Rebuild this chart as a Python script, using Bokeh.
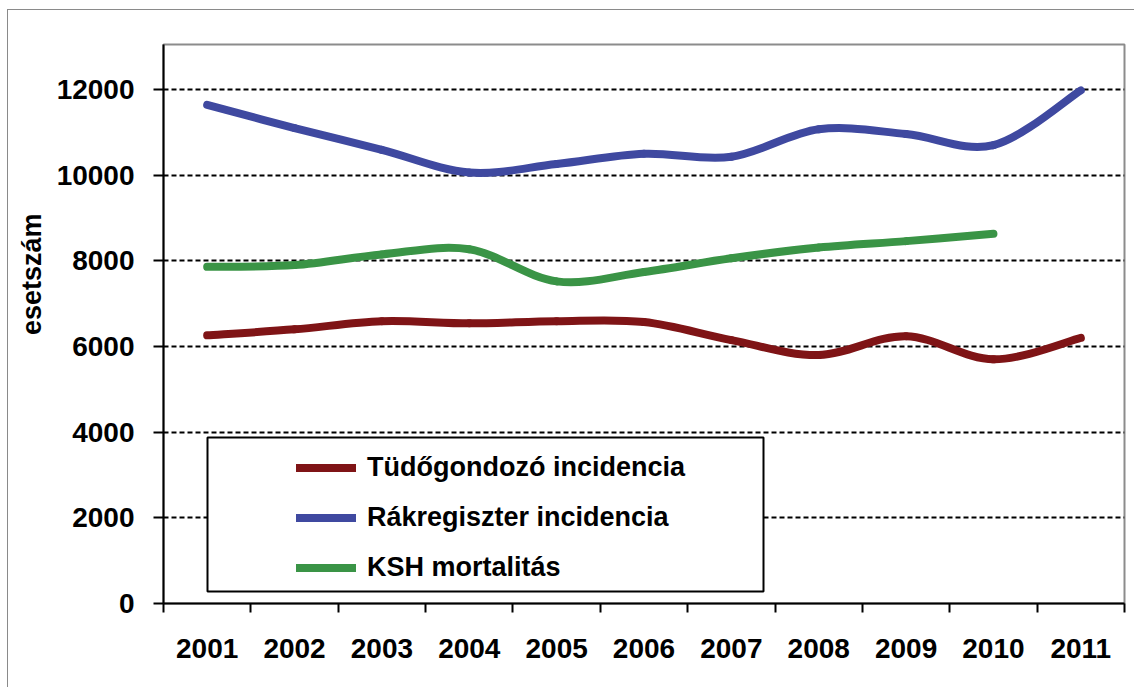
import math
from bokeh.plotting import figure
from bokeh.models import (FixedTicker, Legend, LegendItem, BoxAnnotation, Title,
                          Range1d, ColumnDataSource)
from bokeh.embed import file_html
from bokeh.resources import INLINE

# ---- data ----
years = ["2001", "2002", "2003", "2004", "2005", "2006",
         "2007", "2008", "2009", "2010", "2011"]
tudogondozo = [6260, 6400, 6590, 6540, 6590, 6570, 6150, 5800, 6240, 5700, 6200]
rakregiszter = [11640, 11100, 10590, 10060, 10260, 10500, 10430, 11070, 10960, 10700, 11980]
ksh_mortalitas = [7860, 7900, 8150, 8270, 7520, 7740, 8060, 8310, 8460, 8630]
y_tick_values = [0, 2000, 4000, 6000, 8000, 10000, 12000]

series_names = ["Tüdőgondozó incidencia", "Rákregiszter incidencia", "KSH mortalitás"]
series_values = [tudogondozo, rakregiszter, ksh_mortalitas]
series_colors = ["#7f1416", "#3f49a0", "#3a9446"]

FONT = "Liberation Sans"


def smooth_segments(xs, ys):
    """Cubic Bezier segments (Catmull-Rom style, like spreadsheet 'smoothed line')."""
    n = len(xs)
    d = dict(x0=[], y0=[], x1=[], y1=[], cx0=[], cy0=[], cx1=[], cy1=[])
    for i in range(n - 1):
        a = max(i - 1, 0)
        b = min(i + 2, n - 1)
        d["x0"].append(xs[i]); d["y0"].append(ys[i])
        d["x1"].append(xs[i + 1]); d["y1"].append(ys[i + 1])
        d["cx0"].append(xs[i] + (xs[i + 1] - xs[a]) / 6.0)
        d["cy0"].append(ys[i] + (ys[i + 1] - ys[a]) / 6.0)
        d["cx1"].append(xs[i + 1] - (xs[b] - xs[i]) / 6.0)
        d["cy1"].append(ys[i + 1] - (ys[b] - ys[i]) / 6.0)
    return d


p = figure(width=1127, height=678,
           x_range=Range1d(0, len(years)), y_range=Range1d(0, 13050),
           output_backend="svg", toolbar_location=None,
           min_border_left=155, min_border_top=34,
           min_border_right=11, min_border_bottom=85,
           background_fill_color="white", border_fill_color="white")
p.styles = {"margin-left": "7px", "margin-top": "9px",
            "border-left": "1px solid #8a8a8a", "border-top": "1px solid #8a8a8a"}

p.outline_line_color = "#8c8c8c"
p.outline_line_width = 2

# ---- axes ----
centers = [i + 0.5 for i in range(len(years))]
xa = p.xaxis[0]
xa.ticker = FixedTicker(ticks=centers, minor_ticks=list(range(len(years) + 1)))
xa.major_label_overrides = {c: y for c, y in zip(centers, years)}
xa.major_tick_line_color = None
xa.major_tick_out = 9
xa.major_tick_in = 0
xa.minor_tick_line_color = "black"
xa.minor_tick_line_width = 2
xa.minor_tick_out = 9
xa.minor_tick_in = 0
xa.axis_line_color = "black"
xa.axis_line_width = 2
xa.major_label_standoff = 26
xa.major_label_text_font = FONT
xa.major_label_text_font_style = "bold"
xa.major_label_text_font_size = "28px"
xa.major_label_text_color = "black"

ya = p.yaxis[0]
ya.ticker = FixedTicker(ticks=y_tick_values, minor_ticks=[])
ya.major_tick_line_color = "black"
ya.major_tick_line_width = 2
ya.major_tick_out = 10
ya.major_tick_in = 0
ya.minor_tick_line_color = None
ya.axis_line_color = "black"
ya.axis_line_width = 2
ya.major_label_standoff = 19
ya.major_label_text_font = FONT
ya.major_label_text_font_style = "bold"
ya.major_label_text_font_size = "28px"
ya.major_label_text_color = "black"

p.xgrid.grid_line_color = None
p.ygrid.ticker = FixedTicker(ticks=y_tick_values)
p.ygrid.grid_line_color = "black"
p.ygrid.grid_line_width = 1.8
p.ygrid.grid_line_dash = "5 3"

# ---- y axis title ----
p.add_layout(Title(text="esetszám", align="right", offset=169,
                   vertical_align="top",
                   text_font=FONT, text_font_style="bold",
                   text_font_size="27px", text_color="black"), "left")

# ---- series ----
renderers = []
for vals, col in zip(series_values, series_colors):
    xs = centers[:len(vals)]
    src = ColumnDataSource(smooth_segments(xs, vals))
    r = p.bezier(x0="x0", y0="y0", x1="x1", y1="y1",
                 cx0="cx0", cy0="cy0", cx1="cx1", cy1="cy1",
                 source=src, line_color=col, line_width=8, line_cap="round")
    renderers.append(r)

# ---- legend ----
p.add_layout(BoxAnnotation(left=44, right=600, bottom=12, top=166,
                           left_units="screen", right_units="screen",
                           bottom_units="screen", top_units="screen",
                           fill_color="white", fill_alpha=1.0,
                           line_color="black", line_alpha=1.0, line_width=2))

legend = Legend(items=[LegendItem(label=n, renderers=[r]) for n, r in zip(series_names, renderers)],
                location=(133, 20), margin=0, padding=10, spacing=19,
                glyph_width=60, glyph_height=31, label_height=31, label_standoff=11,
                border_line_color=None, background_fill_alpha=0,
                label_text_font=FONT, label_text_font_style="bold",
                label_text_font_size="27px", label_text_color="black")
p.add_layout(legend, "center")

open("out.html", "w").write(file_html(p, INLINE))
